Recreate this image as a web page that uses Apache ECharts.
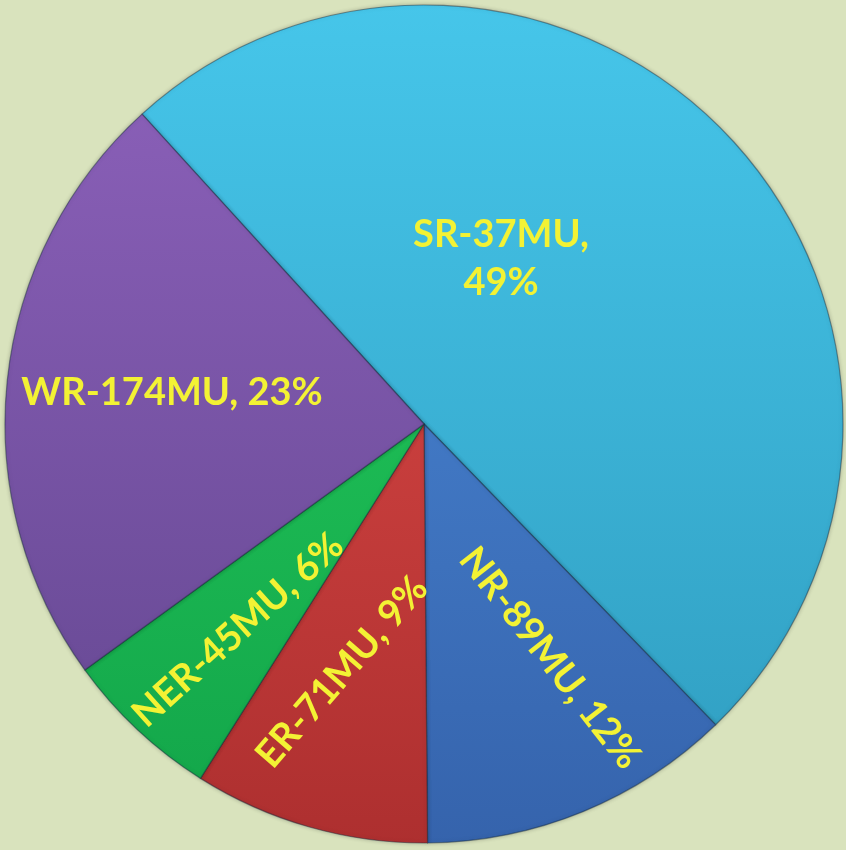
<!DOCTYPE html>
<html>
<head>
<meta charset="utf-8">
<script src="https://cdn.jsdelivr.net/npm/echarts@6/dist/echarts.min.js"></script>
<style>
  html, body { margin: 0; padding: 0; background: #d9e3bd; }
  #chart { width: 846px; height: 850px; }
</style>
</head>
<body>
<div id="chart"></div>
<script>
// region shares (percent) as printed on the slices
var regions = ['SR-37MU', 'NR-89MU', 'ER-71MU', 'NER-45MU', 'WR-174MU'];
var shares = [49, 12, 9, 6, 23];
var topColors = ['#46c6ea', '#4d8ddc', '#e44e4b', '#27d15f', '#8e62bc'];
var bottomColors = ['#2f9cbf', '#3563ac', '#ad2f2f', '#12a449', '#62468f'];

// label placement (centre x, y and rotation) per slice
var labelPos = [
  [501, 259, 0],
  [550, 658, -52],
  [342, 672, 49],
  [238, 630, 42],
  [172, 393, 0]
];

var chartDom = document.getElementById('chart');
var myChart = echarts.init(chartDom);

var pieData = regions.map(function (name, i) {
  return {
    name: name,
    value: shares[i],
    itemStyle: {
      color: new echarts.graphic.LinearGradient(0, 0, 0, 850, [
        { offset: 0, color: topColors[i] },
        { offset: 1, color: bottomColors[i] }
      ], true)
    }
  };
});

var option = {
  backgroundColor: '#d9e3bd',
  animation: false,
  series: [
    {
      type: 'pie',
      center: [424, 424],
      radius: 419,
      startAngle: 132.3,
      clockwise: true,
      data: pieData,
      itemStyle: {
        borderColor: 'rgba(20,40,60,0.45)',
        borderWidth: 1.2,
        shadowColor: 'rgba(0,0,0,0.25)',
        shadowBlur: 4
      },
      label: {
        show: true,
        position: 'inside',
        formatter: function (p) {
          return p.dataIndex === 0 ? p.name + ',\n' + p.value + '%' : p.name + ', ' + p.value + '%';
        },
        color: '#f3f234',
        fontFamily: 'Lato',
        fontWeight: 'bold',
        fontSize: 38,
        lineHeight: 48
      },
      labelLine: { show: false },
      labelLayout: function (params) {
        var p = labelPos[params.dataIndex];
        return { x: p[0], y: p[1], rotate: p[2], align: 'center', verticalAlign: 'middle' };
      }
    }
  ]
};
option && myChart.setOption(option);
</script>
</body>
</html>
